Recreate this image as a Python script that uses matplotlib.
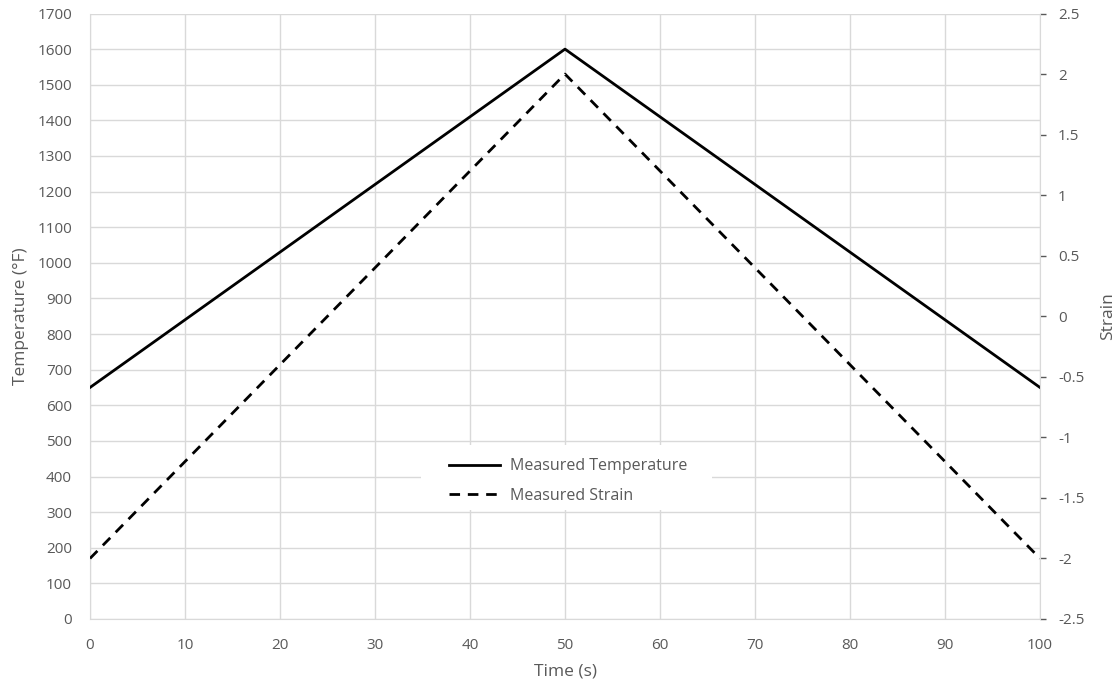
import matplotlib
matplotlib.use("Agg")
import matplotlib.pyplot as plt
from matplotlib.patches import Rectangle

time_s = [0, 50, 100]
temperature_f = [650, 1600, 650]
strain = [-2, 2, -2]
strain_ticks = [-2.5, -2, -1.5, -1, -0.5, 0, 0.5, 1, 1.5, 2, 2.5]
strain_tick_labels = ['-2.5', '-2', '-1.5', '-1', '-0.5', '0', '0.5', '1', '1.5', '2', '2.5']

plt.rcParams['font.family'] = ['Open Sans', 'DejaVu Sans']
txt = '#595959'
grid = '#d9d9d9'

fig = plt.figure(figsize=(11.18, 6.81), dpi=100)
ax = fig.add_axes([90/1118, 1-619/681, 950/1118, 605.5/681])
ax2 = ax.twinx()

l1, = ax.plot(time_s, temperature_f, color='black', lw=2.0, label='Measured Temperature', zorder=3)
l2, = ax2.plot(time_s, strain, color='black', lw=2.0, ls=(0, (3.8, 2.8)), label='Measured Strain', zorder=3)

ax.set_xlim(0, 100)
ax.set_ylim(0, 1700)
ax2.set_ylim(-2.5, 2.5)
ax.set_xticks(range(0, 101, 10))
ax.set_yticks(range(0, 1701, 100))
ax2.set_yticks(strain_ticks)
ax2.set_yticklabels(strain_tick_labels)

ax.grid(True, color=grid, lw=1)
ax.set_axisbelow(True)
for s in ['top', 'right']:
    ax.spines[s].set_visible(False)
for s in ['left', 'bottom']:
    ax.spines[s].set_color(grid)
for s in ['top', 'left', 'bottom']:
    ax2.spines[s].set_visible(False)
ax2.spines['right'].set_color(grid)

ax.tick_params(axis='y', length=0, colors=txt, labelsize=11, pad=13)
ax.tick_params(axis='x', length=0, colors=txt, labelsize=11, pad=14)
ax2.tick_params(axis='y', length=4, width=1, colors=txt, labelsize=11, pad=9)
for t in ax2.yaxis.get_ticklines():
    t.set_color(grid)

ax.set_xlabel('Time (s)', color=txt, fontsize=12.5, labelpad=7)
ax.set_ylabel('Temperature (°F)', color=txt, fontsize=12.5, labelpad=6)
ax2.set_ylabel('Strain', color=txt, fontsize=12.5, labelpad=11)

# white legend background that hides the gridlines behind it
ax.add_patch(Rectangle(((421-90)/950, 0.18), (712-421)/950, 0.107,
                       transform=ax.transAxes, facecolor='white',
                       edgecolor='none', zorder=1))

leg = ax2.legend([l1, l2], ['Measured Temperature', 'Measured Strain'],
                 loc='center', bbox_to_anchor=(0.503, 0.228), frameon=False,
                 fontsize=11.5, handlelength=3.2, handletextpad=0.6,
                 borderpad=0.2, labelspacing=0.85, borderaxespad=0)
for t in leg.get_texts():
    t.set_color(txt)

fig.savefig('out.png', dpi=100)
